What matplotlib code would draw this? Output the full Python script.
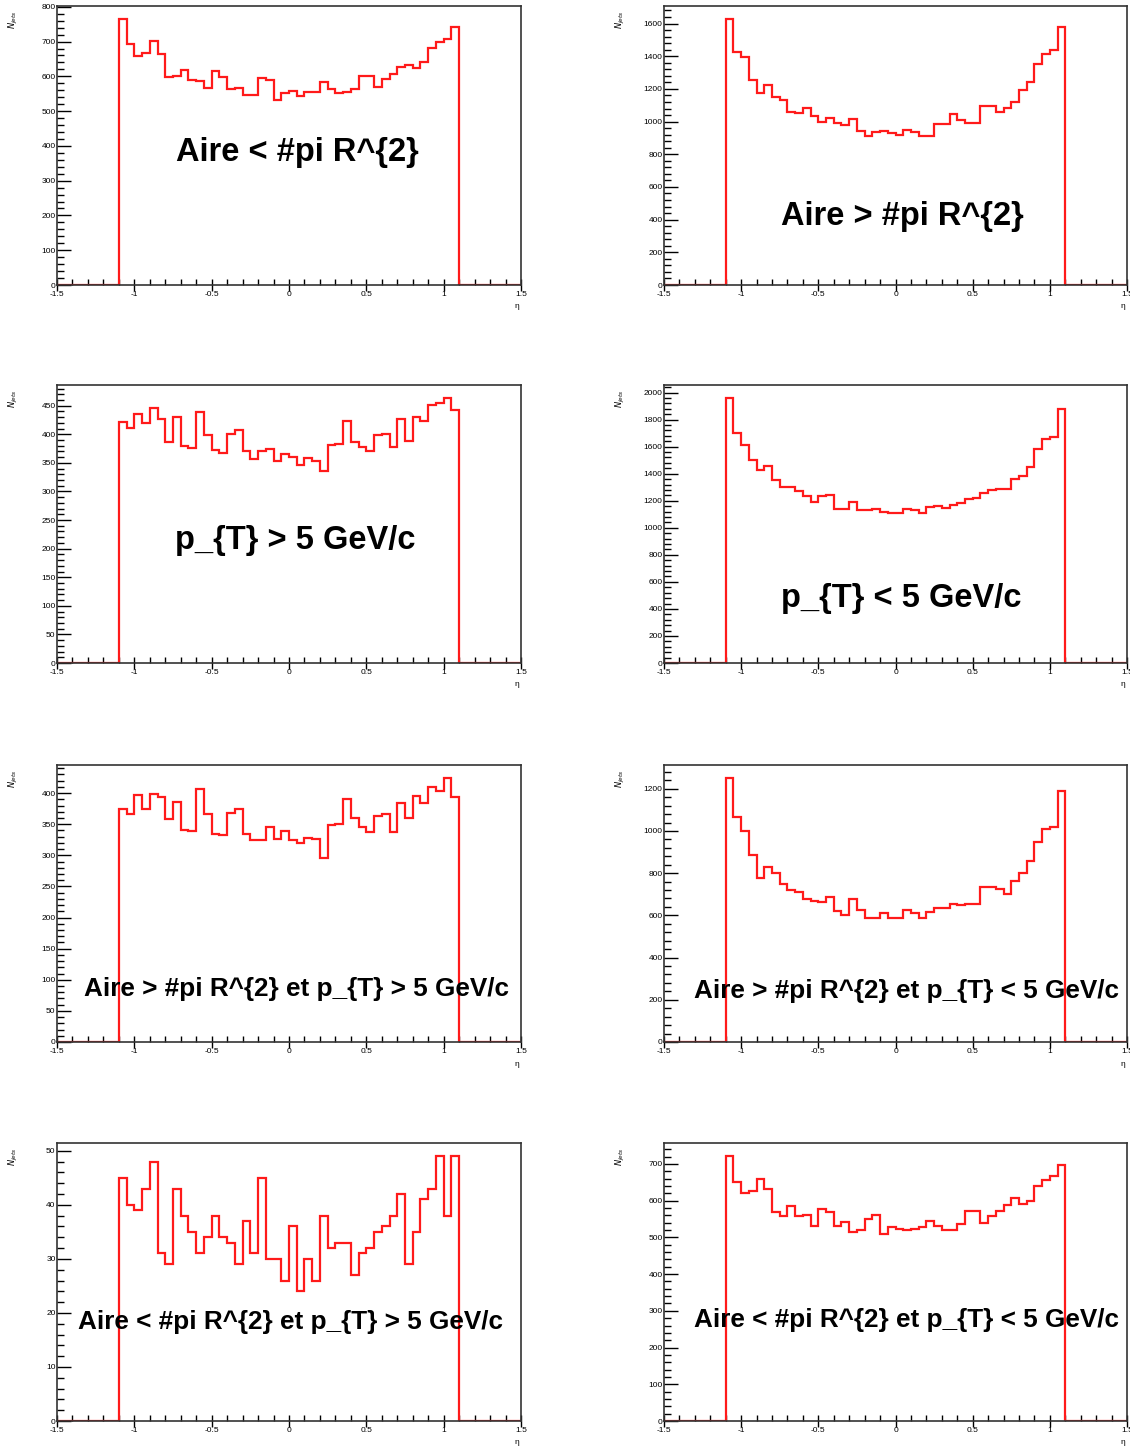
import numpy as np
import matplotlib
matplotlib.use("Agg")
import matplotlib.pyplot as plt
from matplotlib.ticker import MultipleLocator, AutoMinorLocator

plt.rcParams['font.family'] = ['Liberation Sans', 'DejaVu Sans']

# bins de 0.05 en eta, seuls |eta| < 1.1 sont remplis
eta_min, eta_max, n_bins = -1.5, 1.5, 60

aire_petite = [764, 692, 657, 668, 702, 664, 597, 602, 619, 590, 587, 565, 614, 599, 564, 566,
               547, 547, 595, 590, 533, 552, 559, 542, 554, 556, 585, 564, 551, 554, 564, 602,
               602, 570, 592, 608, 627, 633, 625, 640, 681, 699, 707, 743]
aire_grande = [1626, 1425, 1395, 1257, 1176, 1223, 1150, 1130, 1058, 1054, 1085, 1034, 999, 1020,
               990, 979, 1018, 943, 912, 937, 943, 933, 917, 947, 938, 912, 912, 983, 987, 1044,
               1008, 993, 990, 1095, 1095, 1058, 1085, 1121, 1196, 1241, 1354, 1413, 1436, 1577]
pt_haut = [421, 411, 436, 419, 446, 426, 387, 430, 380, 376, 439, 399, 372, 367, 401, 407,
           370, 356, 370, 375, 354, 366, 361, 346, 358, 353, 335, 382, 383, 424, 387, 378,
           370, 399, 401, 378, 426, 389, 431, 423, 451, 455, 463, 443]
pt_bas = [1958, 1702, 1609, 1503, 1429, 1456, 1351, 1301, 1301, 1269, 1232, 1190, 1232, 1245,
          1137, 1137, 1190, 1129, 1129, 1142, 1117, 1109, 1109, 1142, 1134, 1112, 1154, 1161,
          1146, 1171, 1186, 1215, 1223, 1260, 1277, 1284, 1284, 1363, 1382, 1449, 1579, 1653,
          1675, 1875]
grande_pt_haut = [375, 367, 397, 375, 398, 394, 358, 386, 340, 339, 407, 366, 334, 332, 368, 375,
                  334, 325, 325, 346, 326, 339, 325, 320, 328, 327, 296, 349, 351, 390, 360, 345,
                  338, 363, 366, 338, 384, 360, 396, 384, 410, 404, 424, 393]
grande_pt_bas = [1250, 1064, 998, 888, 778, 831, 800, 750, 721, 713, 679, 667, 663, 686, 620, 603,
                 679, 624, 587, 589, 613, 587, 587, 624, 613, 587, 616, 636, 636, 655, 651, 652,
                 655, 734, 734, 723, 702, 762, 801, 856, 946, 1009, 1017, 1190]
petite_pt_haut = [45, 40, 39, 43, 48, 31, 29, 43, 38, 35, 31, 34, 38, 34, 33, 29, 37, 31, 45, 30,
                  30, 26, 36, 24, 30, 26, 38, 32, 33, 33, 27, 31, 32, 35, 36, 38, 42, 29, 35, 41,
                  43, 49, 38, 49]
petite_pt_bas = [721, 651, 621, 627, 659, 632, 569, 559, 585, 558, 562, 532, 578, 569, 530, 542,
                 514, 519, 551, 562, 508, 528, 523, 520, 523, 528, 546, 532, 519, 521, 537, 571,
                 571, 540, 558, 571, 587, 608, 592, 598, 641, 655, 668, 697]

titres = ["Aire < #pi R^{2}", "Aire > #pi R^{2}",
          "p_{T} > 5 GeV/c", "p_{T} < 5 GeV/c",
          "Aire > #pi R^{2} et p_{T} > 5 GeV/c", "Aire > #pi R^{2} et p_{T} < 5 GeV/c",
          "Aire < #pi R^{2} et p_{T} > 5 GeV/c", "Aire < #pi R^{2} et p_{T} < 5 GeV/c"]
series = [aire_petite, aire_grande, pt_haut, pt_bas,
          grande_pt_haut, grande_pt_bas, petite_pt_haut, petite_pt_bas]
pas_y = [100, 200, 50, 200, 50, 200, 10, 100]

W, H = 1130, 1450
fig = plt.figure(figsize=(W / 100, H / 100), dpi=100)

# boites des axes en pixels (gauche, haut, droite, bas)
col_x = [(57, 521), (664, 1127)]
row_y = [(6, 285), (385, 663), (765, 1042), (1143, 1421)]
# centre des titres en pixels
pos_titre = [(297, 152), (902, 216), (295, 540), (901, 598),
             (296, 989), (906, 991), (291, 1322), (906, 1320)]
taille_titre = [23.5, 23.5, 23.5, 23.5, 18.8, 18.8, 18.8, 18.8]

edges = np.linspace(eta_min, eta_max, n_bins + 1)

for i, (vals, titre) in enumerate(zip(series, titres)):
    r, c = divmod(i, 2)
    x0, x1 = col_x[c]
    y0, y1 = row_y[r]
    ax = fig.add_axes([x0 / W, 1 - y1 / H, (x1 - x0) / W, (y1 - y0) / H])
    contenu = np.concatenate([np.zeros(8), vals, np.zeros(8)])
    ax.stairs(contenu, edges, baseline=None, color='#ff1a1a', lw=1.6, zorder=2)
    ax.set_xlim(eta_min, eta_max)
    ax.set_ylim(0, 1.05 * max(vals))

    ax.xaxis.set_major_locator(MultipleLocator(0.5))
    ax.xaxis.set_minor_locator(MultipleLocator(0.1))
    ax.yaxis.set_major_locator(MultipleLocator(pas_y[i]))
    ax.yaxis.set_minor_locator(AutoMinorLocator(5))
    ax.tick_params(axis='x', which='major', direction='inout', length=9, width=1, labelsize=6, pad=0)
    ax.tick_params(axis='x', which='minor', direction='in', length=4, width=1)
    ax.tick_params(axis='y', which='major', direction='in', length=10, width=1, labelsize=6, pad=1)
    ax.tick_params(axis='y', which='minor', direction='in', length=5, width=1)
    ax.xaxis.set_major_formatter(plt.FuncFormatter(lambda v, p: f"{v:g}"))
    for s in ax.spines.values():
        s.set_color('#333333')
        s.set_linewidth(1.2)
    ax.spines['bottom'].set_zorder(3)

    tx, ty = pos_titre[i]
    fig.text(tx / W, 1 - ty / H, titre, ha='center', va='center',
             fontsize=taille_titre[i], fontweight='bold', zorder=5)
    # etiquettes des axes facon ROOT
    fig.text((x0 - 44) / W, 1 - (y0 + 4) / H, r'$N_{jets}$', rotation=90,
             ha='center', va='top', fontsize=6)
    fig.text((x1 - 4) / W, 1 - (y1 + 22) / H, 'η', ha='center', va='center', fontsize=6)

fig.savefig('out.png', dpi=100)
